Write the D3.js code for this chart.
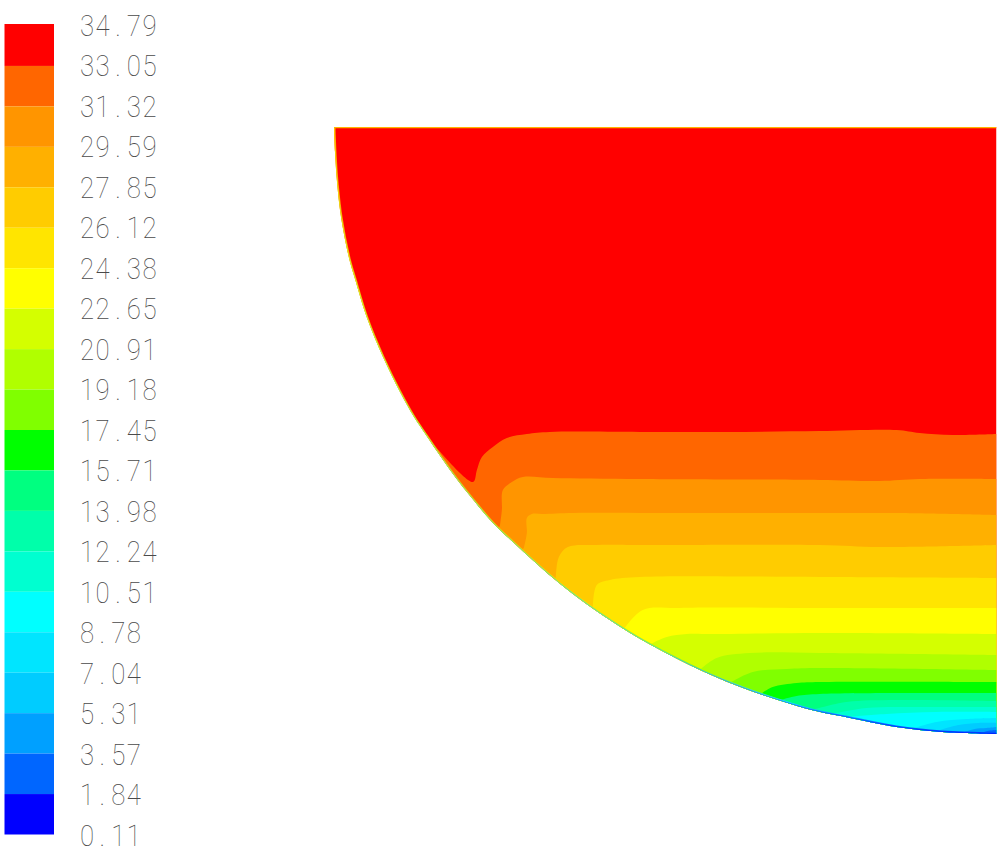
<!DOCTYPE html>
<html><head><meta charset="utf-8">
<script src="https://cdn.jsdelivr.net/npm/d3@7"></script>
<style>html,body{margin:0;padding:0;background:#fff}svg{display:block}
.tick-label{font-family:Roboto,"Liberation Sans",sans-serif;font-weight:100;font-size:30px;fill:#4a4a4a}</style>
</head><body><div id="chart"></div>
<script>
const tickLabels=["34.79","33.05","31.32","29.59","27.85","26.12","24.38","22.65","20.91","19.18","17.45","15.71","13.98","12.24","10.51","8.78","7.04","5.31","3.57","1.84","0.11"];
const bandColors=["#ff0000","#ff6600","#ff9500","#ffb000","#ffcc00","#ffe500","#ffff00","#d4ff00","#b0ff00","#80ff00","#00ff00","#00ff80","#00ffaa","#00ffd0","#00ffff","#00e5ff","#00ccff","#00a0ff","#0066ff","#0000ff"];
// wall of the vessel: [distance from axis, depth]
const wall=[[663,0],[662,25],[660,55],[656,90],[648,131],[642,152],[630,191],[614,230],[597,265],[583,290],[571,308],[556,330],[541,351],[526,370],[504,396],[484,415],[461,436],[445,450],[429,463],[409,478],[387,493],[360,510],[327,528],[290,546],[264,557],[234,568],[185,583],[151,590],[100,600],[54,605],[0,607]];
// contour lines between consecutive bands, from the wall to the axis
const contours=[
 [[572,307],[524,355],[520,343],[515,330],[504,320],[490,311],[470,307],[447,305],[357,305],[270,305],[177,304],[100,303],[77,306],[44,308],[0,307]],
 [[497,399],[495,383],[494,363],[485,355],[474,350],[444,351],[357,352],[177,353],[117,354],[77,352],[0,352]],
 [[473,421],[470,406],[470,391],[465,387],[454,387],[424,386],[357,386],[177,386],[100,386],[0,388]],
 [[441,451],[438,430],[429,420],[400,418],[357,418],[177,418],[117,420],[0,418]],
 [[404,483],[400,458],[387,453],[357,450],[177,450],[0,451]],
 [[372,501],[354,483],[317,481],[177,481],[0,481]],
 [[346,517],[330,510],[310,507],[290,507],[177,506],[0,507]],
 [[297,543],[280,531],[247,526],[177,526],[0,528]],
 [[267,556],[244,545],[210,542],[177,541],[0,543]],
 [[236,567],[224,560],[200,556],[177,555],[0,555]],
 [[216,573],[200,569],[177,567],[100,566],[0,566]],
 [[185,583],[150,575],[100,573],[0,574]],
 [[165,587],[130,581],[80,580],[0,580]],
 [[150,590],[110,587],[60,585],[0,585]],
 [[85,602],[60,595],[30,592],[0,591]],
 [[60,604],[38,598],[18,596],[0,596]],
 [[35,606],[22,602],[10,601],[0,600]],
 [[18,607],[9,604],[0,603]]
];
// colours read along the wall edge: [depth, colour]
const wallOuter=[[0,"#ff9a00"],[350,"#ff9a00"],[480,"#ffe000"],[540,"#b0ff00"],[575,"#20e0ff"],[607,"#0040ff"]];
const wallInner=[[0,"#ffd000"],[180,"#c8ff30"],[400,"#70ff70"],[520,"#40e0c0"],[570,"#2090ff"],[607,"#0020ff"]];

const W=1000,H=860;
const svg=d3.select("#chart").append("svg").attr("width",W).attr("height",H);
const x=d3.scaleLinear().domain([0,663]).range([996.5,334]);
const y=d3.scaleLinear().domain([0,607]).range([127,734]);
const legendY=d3.scaleLinear().domain([0,bandColors.length]).range([25.5,834.5]);
const pitch=15.6, squeeze=0.86, rowY=d3.scalePoint().domain(tickLabels).range([25.3,835]);

svg.append("g").selectAll("rect").data(bandColors).join("rect")
 .attr("x",4.5).attr("width",49.5)
 .attr("y",(d,i)=>i?legendY(i):24).attr("height",(d,i)=>legendY(i+1)-(i?legendY(i):24)).attr("fill",d=>d);

svg.append("g").selectAll("text").data(tickLabels).join("text").attr("class","tick-label")
 .attr("transform",d=>`translate(80,${rowY(d)+10.7}) scale(${squeeze},1)`)
 .attr("x",d=>Array.from(d,(c,i)=>(i*pitch+(c==="."?4:0))/squeeze).join(" "))
 .text(d=>d);

const line=d3.line().x(d=>x(d[0])).y(d=>y(d[1]));
const smooth=d3.line().x(d=>x(d[0])).y(d=>y(d[1])).curve(d3.curveCatmullRom.alpha(0.5));
const wallPath=smooth(wall);
const shapePath=wallPath+"L"+x(0)+","+y(0)+"Z";
const defs=svg.append("defs");
defs.append("clipPath").attr("id","shape").append("path").attr("d",shapePath);
function wallGradient(id,stops){
  const g=defs.append("linearGradient").attr("id",id).attr("gradientUnits","userSpaceOnUse")
   .attr("x1",0).attr("x2",0).attr("y1",y(0)).attr("y2",y(607));
  g.selectAll("stop").data(stops).join("stop").attr("offset",d=>d[0]/607).attr("stop-color",d=>d[1]);
}
wallGradient("wallOuter",wallOuter);
wallGradient("wallInner",wallInner);

const field=svg.append("g").attr("clip-path","url(#shape)");
field.append("path").attr("d",shapePath).attr("fill",bandColors[0]);
contours.forEach((c,i)=>{
  const below=smooth(c)+"L"+x(0)+","+y(640)+"L"+x(700)+","+y(640)+"Z";
  field.append("path").attr("d",below).attr("fill",bandColors[i+1]);
});
field.append("path").attr("d",wallPath).attr("fill","none").attr("stroke","url(#wallOuter)").attr("stroke-width",3);
field.append("path").attr("d",wallPath).attr("fill","none").attr("stroke","url(#wallInner)").attr("stroke-width",1.6);
field.append("path").attr("d",line([[663,0],[0,0]])).attr("fill","none").attr("stroke","#ffb400").attr("stroke-width",2.5);
</script></body></html>
